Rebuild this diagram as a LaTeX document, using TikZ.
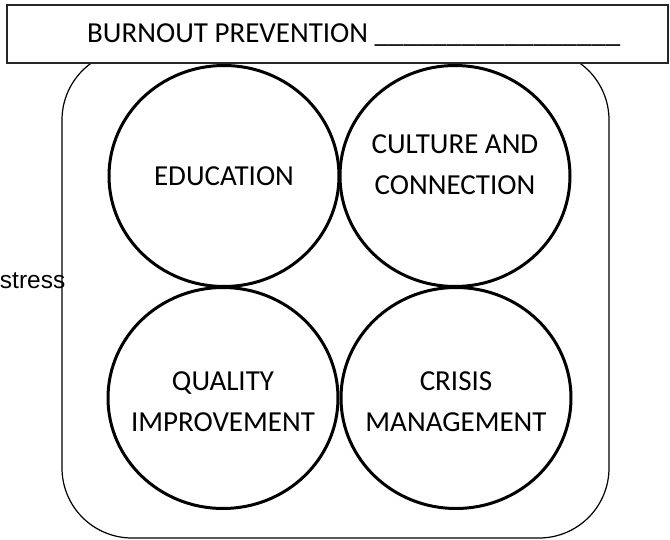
\documentclass[tikz,border=0pt]{standalone}
\usepackage{fontspec}
\setmainfont{Carlito}
\newfontfamily\arialfont{Liberation Sans}
\usetikzlibrary{shapes.geometric}

\begin{document}
\begin{tikzpicture}[x=1pt, y=-1pt,
pillar/.style = {draw, ellipse, line width = 3pt, inner sep = 0pt, minimum width = 230pt, minimum height = 221pt},
lbl/.style = {align = center, inner sep = 0pt, font = \fontsize{29}{41}\selectfont},
frame/.style = {draw, line width = 1.2pt, rounded corners = 70pt}
]
\useasboundingbox (0,0) rectangle (670,540);
% outer frame, its top hidden under the heading
\draw[frame] (62,50) rectangle (609,538);
\filldraw[fill = white, draw = black!85, line width = 1.5pt] (7,5) rectangle (668,63);
\node[lbl, anchor = base west] (head) at (87,43) {BURNOUT PREVENTION \_\_\_\_\_\_\_\_\_\_\_\_\_\_\_\_\_};
\node[anchor = base east, inner sep = 0pt, font = \arialfont\fontsize{24.5}{30}\selectfont] (side) at (65.5,289) {stress};
% the four circles
\foreach \n/\x/\y/\s/\t in {edu/224/176/0/EDUCATION, cult/455/176/11/{CULTURE AND\\CONNECTION}, qual/223/398/-4/{QUALITY\\IMPROVEMENT}, cris/456/398/-4/{CRISIS\\MANAGEMENT}}{
\node[pillar] (\n) at (\x,\y) {};
\node[lbl] (\n-txt) at ([yshift = \s pt]\n.center) {\t};}
\end{tikzpicture}
\end{document}
